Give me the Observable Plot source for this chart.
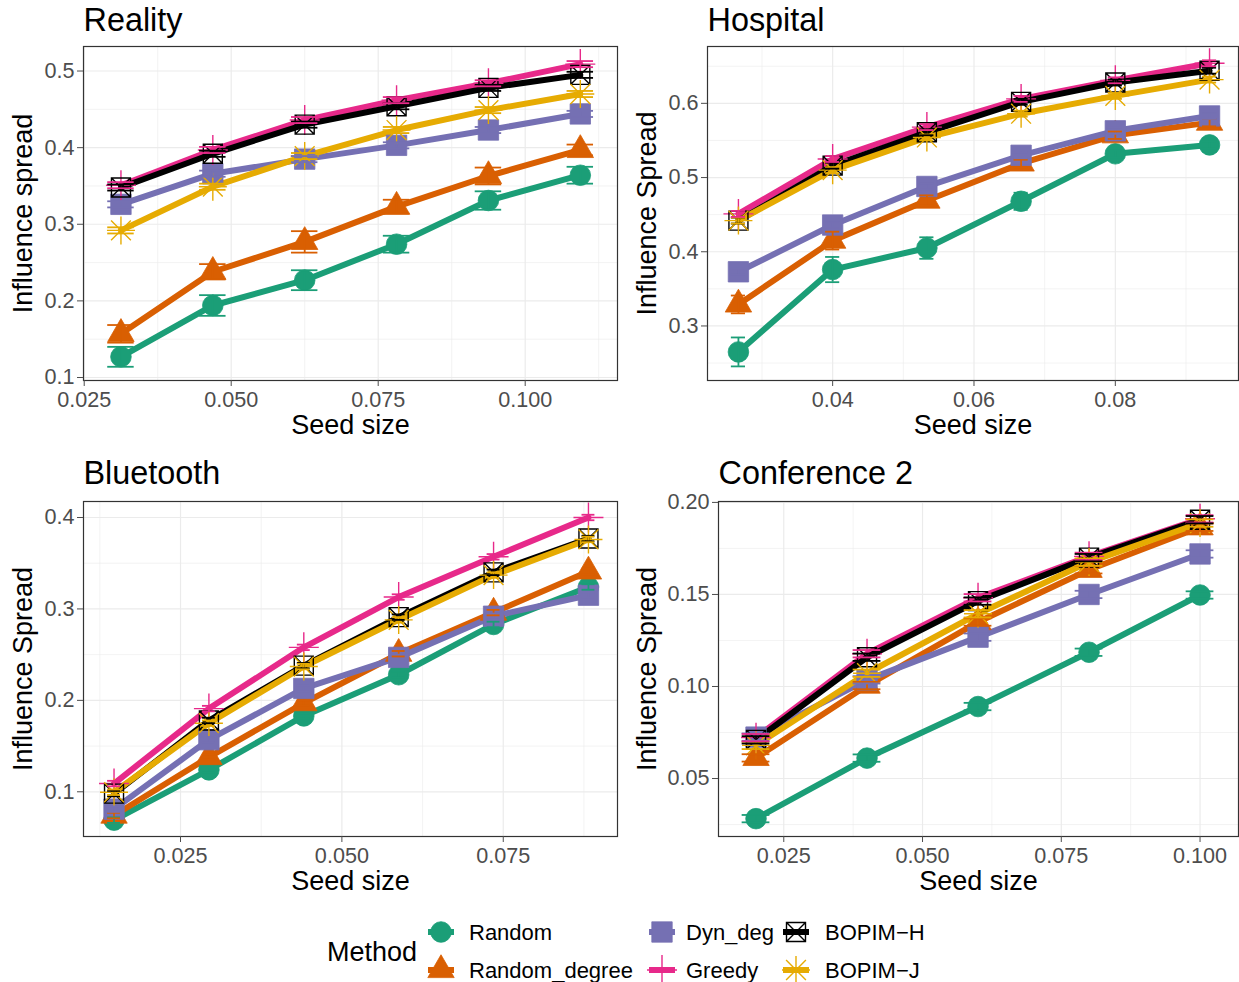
<!DOCTYPE html>
<html><head><meta charset="utf-8">
<script src="https://cdn.jsdelivr.net/npm/d3@7"></script>
<script src="https://cdn.jsdelivr.net/npm/@observablehq/plot@0.6"></script>
<style>
html,body{margin:0;background:#fff;overflow:hidden;}
#wrap{position:relative;width:1239px;height:982px;overflow:hidden;background:#fff;font-family:"Liberation Sans",Arial,Helvetica,sans-serif;}
.panel{position:absolute;}
</style></head><body><div id="wrap"></div>
<script>
const methods = ["Random","Random_degree","Dyn_deg","Greedy","BOPIM−H","BOPIM−J"];
const colors = ["#1B9E77","#D95F02","#7570B3","#E7298A","#000000","#E6AB02"];

// Reality
const realitySeed = [0.03125,0.046875,0.0625,0.078125,0.09375,0.109375];
const realityValues = {
  "Random":        [0.127,0.194,0.227,0.274,0.331,0.364],
  "Random_degree": [0.157,0.238,0.277,0.323,0.363,0.397],
  "Dyn_deg":       [0.326,0.366,0.385,0.403,0.423,0.444],
  "Greedy":        [0.351,0.397,0.436,0.462,0.484,0.509],
  "BOPIM−H":       [0.348,0.392,0.430,0.454,0.478,0.495],
  "BOPIM−J":       [0.292,0.349,0.389,0.423,0.449,0.470]
};
const realityErr = {
  "Random":        [0.013,0.0135,0.013,0.011,0.012,0.011],
  "Random_degree": [0.0115,0.010,0.014,0.009,0.011,0.007],
  "Dyn_deg":       [0.004,0.004,0.004,0.004,0.004,0.004],
  "Greedy":        [0.004,0.004,0.004,0.004,0.004,0.004],
  "BOPIM−H":       [0.004,0.004,0.004,0.004,0.004,0.004],
  "BOPIM−J":       [0.004,0.004,0.004,0.004,0.004,0.004]
};

// Hospital
const hospitalSeed = [0.026667,0.04,0.053333,0.066667,0.08,0.093333];
const hospitalValues = {
  "Random":        [0.265,0.376,0.405,0.468,0.532,0.544],
  "Random_degree": [0.329,0.415,0.469,0.519,0.557,0.574],
  "Dyn_deg":       [0.373,0.436,0.488,0.530,0.563,0.583],
  "Greedy":        [0.451,0.525,0.568,0.606,0.631,0.654],
  "BOPIM−H":       [0.442,0.516,0.561,0.602,0.628,0.644],
  "BOPIM−J":       [0.442,0.510,0.554,0.586,0.610,0.632]
};
const hospitalErr = {
  "Random":        [0.0195,0.017,0.0145,0.0115,0.005,0.005],
  "Random_degree": [0.012,0.012,0.007,0.005,0.005,0.005],
  "Dyn_deg":       [0.004,0.004,0.004,0.004,0.004,0.004],
  "Greedy":        [0.004,0.004,0.004,0.004,0.004,0.004],
  "BOPIM−H":       [0.004,0.004,0.004,0.004,0.004,0.004],
  "BOPIM−J":       [0.004,0.004,0.004,0.004,0.004,0.004]
};

// Bluetooth
const bluetoothSeed = [0.0147,0.0294,0.0441,0.0588,0.0735,0.0882];
const bluetoothValues = {
  "Random":        [0.069,0.124,0.183,0.228,0.283,0.324],
  "Random_degree": [0.074,0.138,0.197,0.251,0.296,0.341],
  "Dyn_deg":       [0.081,0.157,0.213,0.247,0.292,0.315],
  "Greedy":        [0.109,0.191,0.258,0.313,0.357,0.400],
  "BOPIM−H":       [0.098,0.178,0.238,0.291,0.340,0.377],
  "BOPIM−J":       [0.0995,0.175,0.237,0.288,0.337,0.376]
};
const bluetoothErr = {
  "Random":        [0.003,0.003,0.003,0.003,0.003,0.003],
  "Random_degree": [0.003,0.003,0.003,0.003,0.003,0.003],
  "Dyn_deg":       [0.003,0.003,0.003,0.003,0.003,0.003],
  "Greedy":        [0.003,0.003,0.003,0.003,0.003,0.003],
  "BOPIM−H":       [0.003,0.003,0.003,0.003,0.003,0.003],
  "BOPIM−J":       [0.003,0.003,0.003,0.003,0.003,0.003]
};

// Conference 2
const conferenceSeed = [0.02,0.04,0.06,0.08,0.10];
const conferenceValues = {
  "Random":        [0.0282,0.0611,0.0891,0.1186,0.1497],
  "Random_degree": [0.0612,0.1005,0.1350,0.1634,0.1865],
  "Dyn_deg":       [0.0725,0.1036,0.1268,0.1500,0.1720],
  "Greedy":        [0.0722,0.1178,0.1482,0.1707,0.1911],
  "BOPIM−H":       [0.0710,0.1159,0.1464,0.1700,0.1906],
  "BOPIM−J":       [0.0680,0.1072,0.1395,0.1676,0.1888]
};
const conferenceErr = {
  "Random":        [0.002,0.002,0.002,0.002,0.002],
  "Random_degree": [0.002,0.002,0.002,0.002,0.002],
  "Dyn_deg":       [0.002,0.002,0.002,0.002,0.002],
  "Greedy":        [0.002,0.002,0.002,0.002,0.002],
  "BOPIM−H":       [0.002,0.002,0.002,0.002,0.002],
  "BOPIM−J":       [0.002,0.002,0.002,0.002,0.002]
};

// Custom ggplot-like symbols (scaled so r = 10 gives unit 1)
const unit = s => Math.sqrt(s / Math.PI) / 10;
const symCircle = {draw(c, s){ const r = unit(s) * 10.3; c.moveTo(r, 0); c.arc(0, 0, r, 0, 2 * Math.PI); }};
const symTri = {draw(c, s){ const k = unit(s) * 9.8; c.moveTo(0, -1.555 * k); c.lineTo(1.347 * k, 0.778 * k); c.lineTo(-1.347 * k, 0.778 * k); c.closePath(); }};
const symSq = {draw(c, s){ const h = unit(s) * 10.2; c.moveTo(-h, -h); c.lineTo(h, -h); c.lineTo(h, h); c.lineTo(-h, h); c.closePath(); }};
const symBoxX = {draw(c, s){ const h = unit(s) * 9.5; c.moveTo(-h, -h); c.lineTo(h, -h); c.lineTo(h, h); c.lineTo(-h, h); c.closePath(); c.moveTo(-h, -h); c.lineTo(h, h); c.moveTo(h, -h); c.lineTo(-h, h); }};
const symPlus = {draw(c, s){ const h = unit(s) * 15; c.moveTo(-h, 0); c.lineTo(h, 0); c.moveTo(0, -h); c.lineTo(0, h); }};
const symStar = {draw(c, s){ const h = unit(s) * 14, d = h / Math.SQRT2; c.moveTo(-h, 0); c.lineTo(h, 0); c.moveTo(0, -h); c.lineTo(0, h); c.moveTo(-d, -d); c.lineTo(d, d); c.moveTo(d, -d); c.lineTo(-d, d); }};
const symbols = [symCircle, symTri, symSq, symPlus, symBoxX, symStar];
const filled = [true, true, true, false, false, false];

const FONT = "'Liberation Sans', Arial, Helvetica, sans-serif";
const wrap = document.getElementById("wrap");

function panel(cfg) {
  const data = [];
  methods.forEach(m => cfg.values[m].forEach((v, j) => data.push({method: m, x: cfg.seed[j], y: v, e: cfg.errs[m][j]})));
  const w = cfg.capW;
  const dots = methods.map((m, i) => Plot.dot(data.filter(d => d.method === m), {
    x: "x", y: "y", r: 10, symbol: symbols[i],
    fill: filled[i] ? "method" : "none",
    stroke: "method", strokeWidth: filled[i] ? 0.8 : 1.4
  }));
  const p = Plot.plot({
    width: cfg.width, height: cfg.height,
    marginLeft: cfg.ml, marginRight: cfg.mr, marginTop: cfg.mt, marginBottom: cfg.mb,
    x: {domain: cfg.xDomain},
    y: {domain: cfg.yDomain},
    color: {domain: methods, range: colors},
    style: {fontFamily: FONT, fontSize: "21.6px", background: "white", overflow: "visible"},
    marks: [
      Plot.gridX(cfg.xMinor, {stroke: "#EBEBEB", strokeOpacity: 1, strokeWidth: 0.6}),
      Plot.gridY(cfg.yMinor, {stroke: "#EBEBEB", strokeOpacity: 1, strokeWidth: 0.6}),
      Plot.gridX(cfg.xTicks, {stroke: "#EBEBEB", strokeOpacity: 1, strokeWidth: 1.2}),
      Plot.gridY(cfg.yTicks, {stroke: "#EBEBEB", strokeOpacity: 1, strokeWidth: 1.2}),
      Plot.line(data, {x: "x", y: "y", z: "method", stroke: "method", strokeWidth: 6, strokeLinejoin: "round"}),
      ...dots,
      Plot.ruleX(data, {x: "x", y1: d => d.y - d.e, y2: d => d.y + d.e, stroke: "method", strokeWidth: 1.8}),
      Plot.ruleY(data, {y: d => d.y + d.e, x1: d => d.x - w / 2, x2: d => d.x + w / 2, stroke: "method", strokeWidth: 1.8}),
      Plot.ruleY(data, {y: d => d.y - d.e, x1: d => d.x - w / 2, x2: d => d.x + w / 2, stroke: "method", strokeWidth: 1.8}),
      Plot.frame({stroke: "#333333", strokeWidth: 1.2}),
      Plot.axisX(cfg.xTicks, {tickFormat: d3.format(cfg.xFmt), tickSize: 6, tickPadding: 5, color: "#4D4D4D", label: null}),
      Plot.axisY(cfg.yTicks, {tickFormat: d3.format(cfg.yFmt), tickSize: 6, tickPadding: 3, color: "#4D4D4D", label: null}),
      Plot.text([cfg.title], {frameAnchor: "top-left", dy: cfg.titleDy, lineAnchor: "bottom", textAnchor: "start", fontSize: 32.4, fill: "black"}),
      Plot.text(["Seed size"], {frameAnchor: "bottom", dy: 53.3, lineAnchor: "bottom", textAnchor: "middle", fontSize: 27, fill: "black"}),
      Plot.text([cfg.ylab], {frameAnchor: "left", dx: cfg.ylabDx, rotate: -90, lineAnchor: "middle", textAnchor: "middle", fontSize: 27, fill: "black"})
    ]
  });
  const div = document.createElement("div");
  div.className = "panel";
  div.style.left = cfg.left + "px";
  div.style.top = cfg.top + "px";
  div.appendChild(p);
  wrap.appendChild(div);
}

panel({left: 0, top: 0, width: 620, height: 450, ml: 83, mr: 3, mt: 46, mb: 70,
  seed: realitySeed, values: realityValues, errs: realityErr, capW: 0.0045,
  xDomain: [0.02488, 0.1157], yDomain: [0.0961, 0.532],
  xTicks: [0.025, 0.05, 0.075, 0.1], xMinor: [0.0375, 0.0625, 0.0875, 0.1125],
  yTicks: [0.1, 0.2, 0.3, 0.4, 0.5], yMinor: [0.15, 0.25, 0.35, 0.45],
  xFmt: ".3f", yFmt: ".1f", title: "Reality", titleDy: -16, ylab: "Influence spread", ylabDx: -60.5});

panel({left: 620, top: 0, width: 619, height: 450, ml: 87, mr: 1, mt: 46, mb: 70,
  seed: hospitalSeed, values: hospitalValues, errs: hospitalErr, capW: 0.002,
  xDomain: [0.02229, 0.09743], yDomain: [0.2265, 0.6766],
  xTicks: [0.04, 0.06, 0.08], xMinor: [0.03, 0.05, 0.07, 0.09],
  yTicks: [0.3, 0.4, 0.5, 0.6], yMinor: [0.25, 0.35, 0.45, 0.55, 0.65],
  xFmt: ".2f", yFmt: ".1f", title: "Hospital", titleDy: -16, ylab: "Influence Spread", ylabDx: -60});

panel({left: 0, top: 450, width: 620, height: 460, ml: 83, mr: 3, mt: 51, mb: 74,
  seed: bluetoothSeed, values: bluetoothValues, errs: bluetoothErr, capW: 0.002,
  xDomain: [0.00997, 0.0927], yDomain: [0.0511, 0.4175],
  xTicks: [0.025, 0.05, 0.075], xMinor: [0.0125, 0.0375, 0.0625, 0.0875],
  yTicks: [0.1, 0.2, 0.3, 0.4], yMinor: [0.15, 0.25, 0.35],
  xFmt: ".3f", yFmt: ".1f", title: "Bluetooth", titleDy: -18, ylab: "Influence Spread", ylabDx: -60.5});

panel({left: 620, top: 450, width: 619, height: 460, ml: 98, mr: 1, mt: 51, mb: 74,
  seed: conferenceSeed, values: conferenceValues, errs: conferenceErr, capW: 0.005,
  xDomain: [0.01324, 0.10693], yDomain: [0.0185, 0.2005],
  xTicks: [0.025, 0.05, 0.075, 0.1], xMinor: [0.0375, 0.0625, 0.0875],
  yTicks: [0.05, 0.1, 0.15, 0.2], yMinor: [0.025, 0.075, 0.125, 0.175],
  xFmt: ".3f", yFmt: ".2f", title: "Conference 2", titleDy: -18, ylab: "Influence Spread", ylabDx: -71});

// Legend
const legendCols = [441, 662, 796];
const legendTextX = [469, 686, 825];
const legendRows = [932, 970];
const leg = d3.create("svg").attr("width", 1239).attr("height", 82)
  .style("position", "absolute").style("left", "0px").style("top", "900px")
  .style("font-family", FONT);
leg.append("text").attr("x", 327).attr("y", 61).attr("font-size", 27).attr("fill", "black").text("Method");
methods.forEach((m, i) => {
  const col = Math.floor(i / 2), row = i % 2;
  const cx = legendCols[col], cy = legendRows[row] - 900;
  const g = leg.append("g").attr("transform", `translate(${cx},${cy})`);
  g.append("line").attr("x1", -13).attr("x2", 13).attr("y1", 0).attr("y2", 0)
    .attr("stroke", colors[i]).attr("stroke-width", 6);
  g.append("path").attr("d", d3.symbol(symbols[i], Math.PI * 100)())
    .attr("fill", filled[i] ? colors[i] : "none")
    .attr("stroke", colors[i]).attr("stroke-width", filled[i] ? 0.8 : 1.4);
  leg.append("text").attr("x", legendTextX[col]).attr("y", cy + 7.5)
    .attr("font-size", 22).attr("fill", "black").text(m);
});
wrap.appendChild(leg.node());
</script>
</body></html>
